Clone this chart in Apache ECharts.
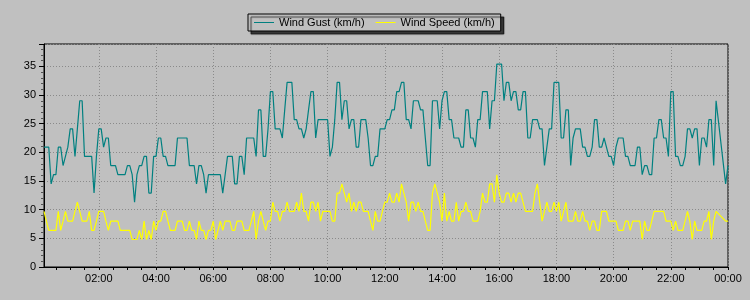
<!DOCTYPE html>
<html>
<head>
<meta charset="utf-8">
<script src="https://cdn.jsdelivr.net/npm/echarts@6/dist/echarts.min.js"></script>
<style>
html,body{margin:0;padding:0;background:#c0c0c0;}
#chart{width:750px;height:300px;}
</style>
</head>
<body>
<div id="chart"></div>
<script>
// ---- data ----
const seriesNames = ['Wind Gust (km/h)', 'Wind Speed (km/h)'];
const firstMinute = 5;      // first sample at 00:05
const stepMinutes = 5;      // one sample every 5 minutes
const labelEveryMinutes = 120;
const tickEveryMinutes = 30;
const yMax = 38.9;
const yStep = 5;

// Wind Gust (km/h), one row per hour (12 samples)
const gust = [
  20.9,20.9,20.9,14.5,16.1,16.1,20.9,20.9,17.7,19.3,20.9,24.1,
  24.1,19.3,24.1,29.0,29.0,19.3,19.3,19.3,19.3,12.9,19.3,24.1,
  24.1,20.9,22.5,22.5,17.7,17.7,17.7,16.1,16.1,16.1,16.1,17.7,
  17.7,16.1,11.3,16.1,17.7,17.7,19.3,19.3,12.9,12.9,19.3,19.3,
  22.5,22.5,19.3,19.3,17.7,17.7,17.7,17.7,22.5,22.5,22.5,22.5,
  22.5,17.7,17.7,17.7,14.5,17.7,17.7,16.1,12.9,16.1,16.1,16.1,
  16.1,16.1,16.1,12.9,16.1,19.3,19.3,19.3,14.5,14.5,19.3,19.3,
  16.1,22.5,22.5,22.5,22.5,19.3,27.4,27.4,19.3,19.3,24.1,30.6,
  30.6,24.1,24.1,24.1,22.5,27.4,32.2,32.2,32.2,25.7,25.7,24.1,
  24.1,22.5,24.1,27.4,30.6,30.6,22.5,25.7,25.7,25.7,25.7,25.7,
  19.3,20.9,25.7,32.2,32.2,25.7,29.0,29.0,24.1,25.7,25.7,20.9,
  20.9,25.7,25.7,25.7,22.5,17.7,17.7,19.3,19.3,24.1,24.1,24.1,
  25.7,25.7,27.4,27.4,30.6,30.6,32.2,32.2,25.7,25.7,24.1,29.0,
  29.0,29.0,27.4,27.4,22.5,17.7,17.7,29.0,29.0,29.0,24.1,29.0,
  30.6,30.6,25.7,25.7,22.5,22.5,22.5,20.9,20.9,27.4,27.4,22.5,
  22.5,20.9,25.7,25.7,30.6,30.6,30.6,24.1,29.0,29.0,35.4,35.4,
  35.4,29.0,32.2,32.2,29.0,30.6,30.6,27.4,27.4,30.6,30.6,22.5,
  22.5,25.7,25.7,25.7,24.1,24.1,17.7,20.9,24.1,24.1,32.2,32.2,
  32.2,22.5,22.5,27.4,27.4,17.7,22.5,24.1,24.1,24.1,20.9,20.9,
  19.3,19.3,20.9,25.7,25.7,20.9,20.9,22.5,20.9,19.3,19.3,17.7,
  20.9,22.5,22.5,22.5,19.3,19.3,17.7,17.7,17.7,20.9,20.9,16.1,
  17.7,17.7,16.1,16.1,22.5,22.5,25.7,25.7,22.5,22.5,19.3,30.6,
  30.6,19.3,19.3,17.7,17.7,19.3,24.1,24.1,22.5,24.1,24.1,17.7,
  22.5,22.5,20.9,25.7,25.7,17.7,29.0,null,null,null,14.5,17.7
];

// Wind Speed (km/h), one row per hour (12 samples)
const speed = [
  9.7,8.0,6.4,6.4,6.4,6.4,9.7,6.4,8.0,9.7,8.0,8.0,
  8.0,9.7,11.3,9.7,8.0,8.0,8.0,9.7,6.4,6.4,8.0,9.7,
  9.7,9.7,8.0,6.4,8.0,8.0,8.0,8.0,6.4,6.4,6.4,6.4,
  6.4,4.8,4.8,4.8,6.4,4.8,8.0,4.8,6.4,4.8,8.0,6.4,
  8.0,8.0,9.7,9.7,8.0,6.4,6.4,6.4,8.0,8.0,8.0,6.4,
  6.4,8.0,6.4,6.4,4.8,8.0,6.4,6.4,4.8,6.4,6.4,8.0,
  4.8,6.4,8.0,6.4,8.0,8.0,8.0,6.4,6.4,8.0,8.0,8.0,
  6.4,6.4,6.4,8.0,9.7,4.8,8.0,9.7,8.0,6.4,8.0,8.0,
  11.3,9.7,9.7,8.0,9.7,9.7,11.3,9.7,9.7,9.7,11.3,9.7,
  12.9,9.7,9.7,8.0,11.3,11.3,9.7,11.3,8.0,9.7,9.7,9.7,
  9.7,8.0,8.0,12.9,12.9,14.5,12.9,11.3,12.9,9.7,11.3,9.7,
  11.3,11.3,9.7,9.7,9.7,8.0,6.4,9.7,8.0,8.0,9.7,11.3,
  11.3,12.9,11.3,11.3,12.9,11.3,14.5,12.9,11.3,8.0,11.3,11.3,
  9.7,11.3,9.7,9.7,8.0,6.4,6.4,12.9,14.5,12.9,11.3,8.0,
  12.9,8.0,9.7,8.0,8.0,11.3,8.0,9.7,9.7,11.3,9.7,9.7,
  8.0,8.0,8.0,9.7,12.9,11.3,11.3,14.5,14.5,11.3,16.1,12.9,
  11.3,11.3,12.9,12.9,11.3,12.9,11.3,12.9,12.9,11.3,9.7,9.7,
  9.7,9.7,12.9,14.5,11.3,8.0,9.7,11.3,9.7,9.7,11.3,9.7,
  11.3,8.0,9.7,11.3,8.0,8.0,8.0,9.7,8.0,8.0,9.7,8.0,
  8.0,6.4,8.0,8.0,6.4,6.4,9.7,9.7,9.7,8.0,8.0,8.0,
  8.0,6.4,6.4,6.4,8.0,8.0,6.4,8.0,8.0,8.0,8.0,4.8,
  8.0,6.4,6.4,8.0,9.7,9.7,9.7,9.7,9.7,8.0,8.0,8.0,
  6.4,8.0,6.4,6.4,6.4,8.0,9.7,8.0,4.8,8.0,6.4,6.4,
  6.4,8.0,8.0,9.7,4.8,8.0,9.7,null,null,null,8.0,8.0
];

// ---- categories (sample times) ----
function pad(n){ return (n < 10 ? '0' : '') + n; }
const sampleMinutes = gust.map((_, i) => firstMinute + i * stepMinutes);
const categories = sampleMinutes.map(m => {
  const mm = m % 1440;
  return pad(Math.floor(mm / 60)) + ':' + pad(mm % 60);
});

const font = 'Liberation Sans, Arial, sans-serif';
const chart = echarts.init(document.getElementById('chart'), null, {renderer: 'canvas'});
chart.setOption({
  animation: false,
  backgroundColor: '#c0c0c0',
  textStyle: {fontFamily: font},
  legend: {
    left: 248,
    top: 14,
    padding: [3, 6, 3, 6],
    itemGap: 11,
    itemWidth: 20,
    itemHeight: 12,
    itemTextGap: 6,
    icon: 'path://M0,5.5 L20,5.5 L20,6.5 L0,6.5 Z',
    backgroundColor: '#c0c0c0',
    borderColor: '#000',
    borderWidth: 1,
    shadowColor: 'rgba(0,0,0,0.7)',
    shadowBlur: 1,
    shadowOffsetX: 3,
    shadowOffsetY: 3,
    textStyle: {fontFamily: font, fontSize: 11, color: '#000'},
    data: seriesNames
  },
  grid: {
    left: 44, top: 44, width: 684, height: 223,
    show: true, borderColor: '#000', borderWidth: 1,
    backgroundColor: '#c0c0c0'
  },
  xAxis: {
    type: 'category',
    data: categories,
    boundaryGap: false,
    axisLine: {lineStyle: {color: '#000', width: 1}},
    axisTick: {
      show: true, length: 3, lineStyle: {color: '#000'},
      interval: (i) => sampleMinutes[i] % tickEveryMinutes === 0
    },
    axisLabel: {
      color: '#000', fontSize: 11, fontFamily: font, margin: 6,
      interval: (i) => sampleMinutes[i] % labelEveryMinutes === 0
    },
    splitLine: {
      show: true,
      interval: (i) => sampleMinutes[i] % labelEveryMinutes === 0,
      lineStyle: {color: '#8a8a8a', type: [1, 2], width: 1}
    }
  },
  yAxis: {
    type: 'value',
    min: 0, max: yMax, interval: yStep,
    axisLine: {show: true, lineStyle: {color: '#000', width: 1}},
    axisTick: {show: true, length: 5, lineStyle: {color: '#000'}},
    minorTick: {show: true, splitNumber: 5, length: 3, lineStyle: {color: '#555'}},
    axisLabel: {
      color: '#000', fontSize: 11, fontFamily: font, margin: 8,
      formatter: v => (v % yStep === 0 ? String(v) : '')
    },
    splitLine: {show: true, lineStyle: {color: '#8a8a8a', type: [1, 2], width: 1}}
  },
  series: [
    {
      name: seriesNames[0], type: 'line', data: gust,
      symbol: 'none', connectNulls: true,
      lineStyle: {color: '#008080', width: 1.2},
      itemStyle: {color: '#008080'}
    },
    {
      name: seriesNames[1], type: 'line', data: speed,
      symbol: 'none', connectNulls: true,
      lineStyle: {color: '#ffff00', width: 1.2},
      itemStyle: {color: '#ffff00'}
    }
  ]
});
</script>
</body>
</html>
